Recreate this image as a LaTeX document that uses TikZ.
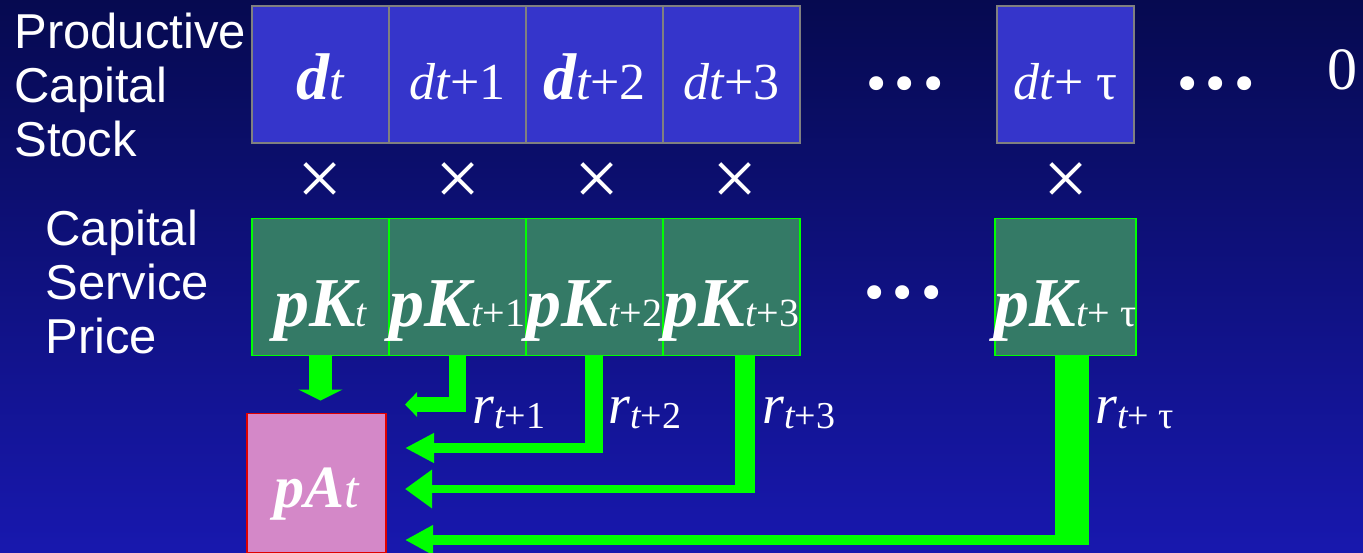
\documentclass[tikz,border=0pt]{standalone}
\usepackage{fontspec}
\setmainfont{Liberation Serif}
\newfontfamily\labelfont{Liberation Sans}
\newfontfamily\dotfont{DejaVu Sans}
\definecolor{bgtop}{HTML}{060A50}
\definecolor{bgbottom}{HTML}{1818AE}
\definecolor{stockblue}{HTML}{3535CB}
\definecolor{stockgray}{HTML}{808080}
\definecolor{pricegreen}{HTML}{347A66}
\definecolor{flowgreen}{HTML}{00FF00}
\definecolor{assetpink}{HTML}{D488C8}
\definecolor{assetred}{HTML}{E00000}
\usetikzlibrary{arrows.meta, positioning}
\newcommand{\bigd}{{\fontsize{33}{34}\selectfont\bfseries\itshape d}}
\newcommand{\pk}[1]{{\fontsize{35}{36}\selectfont\bfseries\itshape pK}{\fontsize{20}{22}\selectfont\itshape t\upshape #1}}
\newcommand{\rate}[1]{{\fontsize{28}{30}\selectfont\itshape r}\raisebox{-2.5pt}{\fontsize{19}{20}\selectfont\itshape t\upshape #1}}
\tikzset{
	stockbox/.style={draw=stockgray, fill=stockblue, line width=0.75pt, minimum size=68.5pt,
		inner sep=0pt, outer sep=0pt, text=white, font=\fontsize{26}{28}\selectfont,
		text height=24.5pt, text depth=0pt},
	pricebox/.style={draw=flowgreen, fill=pricegreen, line width=0.75pt, minimum size=68.5pt,
		inner sep=0pt, outer sep=0pt, text=white, text height=39pt, text depth=0pt},
	assetbox/.style={draw=assetred, fill=assetpink, line width=0.75pt, minimum size=69.5pt,
		inner sep=0pt, outer sep=0pt, text=white, text height=24pt, text depth=0pt},
	sidelabel/.style={anchor=north west, align=left, inner sep=0pt, text=white,
		font=\labelfont\fontsize{24.5}{27}\selectfont},
	timesmark/.style={text=white, inner sep=0pt, font=\fontsize{40}{40}\selectfont},
	dotsrow/.style={text=white, inner sep=0pt, font=\dotfont\fontsize{24}{24}\selectfont},
	ratelabel/.style={anchor=base west, inner sep=0pt, text=white},
	flow/.style={draw=flowgreen, line cap=butt}
}
\begin{document}
\begin{tikzpicture}[x=0.5pt, y=-0.5pt]
	\useasboundingbox (0,0) rectangle (1363,552);
	\shade[top color=bgtop, bottom color=bgbottom] (0,0) rectangle (1363,552);

	% row labels
	\node[sidelabel] (stocklbl) at (14,13) {Productive\\Capital\\Stock};
	\node[sidelabel] (pricelbl) at (45,210) {Capital\\Service\\Price};

	% capital stock row
	\node[stockbox] (d0) at (320.5,74.5) {\bigd\itshape t};
	\node[stockbox, right=0pt of d0] (d1) {\itshape dt\upshape+1};
	\node[stockbox, right=0pt of d1] (d2) {\bigd\itshape t\upshape+2};
	\node[stockbox, right=0pt of d2] (d3) {\itshape dt\upshape+3};
	\node[stockbox] (dT) at (1065.5,74.5) {\itshape dt\upshape+ τ};
	\node[dotsrow] (dotsA) at (905,89) {•••};
	\node[dotsrow] (dotsB) at (1216,89) {•••};
	\node[text=white, inner sep=0pt, font=\fontsize{30}{30}\selectfont] (zero) at (1342,70) {0};

	% multiplication signs
	\node[timesmark] (x0) at (320,184) {×};
	\node[timesmark] (x1) at (458,184) {×};
	\node[timesmark] (x2) at (597,184) {×};
	\node[timesmark] (x3) at (735,184) {×};
	\node[timesmark] (xT) at (1066,184) {×};

	% capital service price row
	\node[pricebox] (pk0) at (320.5,287) {\pk{}};
	\node[pricebox, right=0pt of pk0] (pk1) {\pk{+1}};
	\node[pricebox, right=0pt of pk1] (pk2) {\pk{+2}};
	\node[pricebox, right=0pt of pk2] (pk3) {\pk{+3}};
	\node[pricebox] (pkT) at (1065.5,287) {\pk{+ τ}};
	\node[dotsrow] (dotsC) at (903,298) {•••};

	% asset price
	\node[assetbox] (pa) at (316.5,483) {{\fontsize{30}{30}\selectfont\bfseries\itshape pA}{\fontsize{26}{26}\selectfont\itshape t}};

	% flows into the asset price
	\coordinate (c1) at (457,404.5);
	\coordinate (c2) at (594,448);
	\coordinate (c3) at (745,489);
	\coordinate (c4) at (1072,540);
	\draw[flow, line width=11.5pt, -{Triangle[length=5.5pt, width=22pt]}, shorten >=6.5pt] (pk0.south) -- (pk0.south |- pa.north);
	\draw[flow, line width=8.5pt] (pk1.south -| c1) -- ([yshift=-3.75pt]c1);
	\draw[flow, line width=7.5pt, -{Triangle[length=6pt, width=12pt]}, shorten >=9.5pt] (c1) -- (pa.east |- c1);
	\draw[flow, line width=9pt] (pk2.south -| c2) -- ([yshift=-2.5pt]c2);
	\draw[flow, line width=5pt, -{Triangle[length=14.5pt, width=14pt]}, shorten >=9.5pt] (c2) -- (pa.east |- c2);
	\draw[flow, line width=10pt] (pk3.south -| c3) -- ([yshift=-2pt]c3);
	\draw[flow, line width=4pt, -{Triangle[length=13.5pt, width=18.5pt]}, shorten >=9.5pt] (c3) -- (pa.east |- c3);
	\draw[flow, line width=17pt] (pkT.south -| c4) -- ([yshift=-2.5pt]c4);
	\draw[flow, line width=5pt, -{Triangle[length=14pt, width=14pt]}, shorten >=9.5pt] (c4) -- (pa.east |- c4);

	% rates
	\node[ratelabel] (r1) at (472,423) {\rate{+1}};
	\node[ratelabel] (r2) at (608,423) {\rate{+2}};
	\node[ratelabel] (r3) at (762,423) {\rate{+3}};
	\node[ratelabel] (rT) at (1095,423) {\rate{+ τ}};
\end{tikzpicture}
\end{document}
